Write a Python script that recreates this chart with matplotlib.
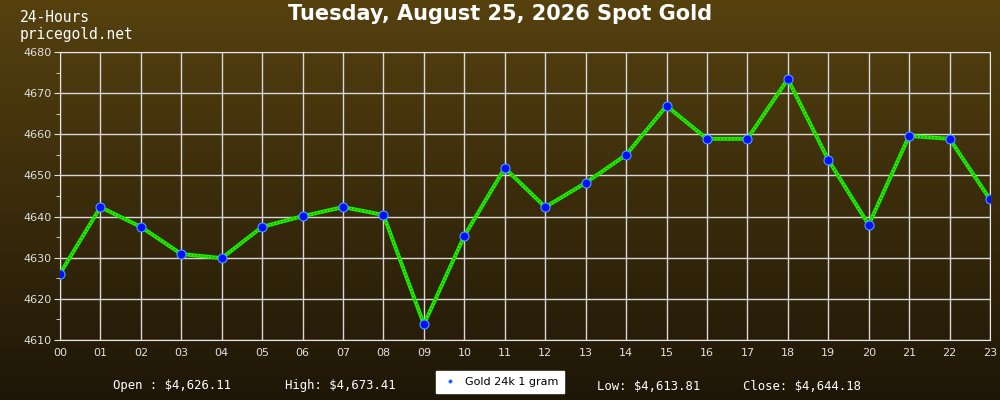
import numpy as np
import matplotlib
matplotlib.use("Agg")
import matplotlib.pyplot as plt
from matplotlib.colors import LinearSegmentedColormap

hours = ['00', '01', '02', '03', '04', '05', '06', '07', '08', '09', '10', '11',
         '12', '13', '14', '15', '16', '17', '18', '19', '20', '21', '22', '23']
prices = [4626.11, 4642.3, 4637.5, 4630.9, 4629.9, 4637.5, 4640.1, 4642.3,
          4640.4, 4613.81, 4635.3, 4651.8, 4642.3, 4648.2, 4655.0, 4666.9,
          4658.9, 4658.9, 4673.41, 4653.8, 4638.0, 4659.6, 4658.9, 4644.18]
title = 'Tuesday, August 25, 2026 Spot Gold'
summary = ['Open : $4,626.11', 'High: $4,673.41', 'Low: $4,613.81', 'Close: $4,644.18']
legend_label = 'Gold 24k 1 gram'

fig = plt.figure(figsize=(10, 4), dpi=100)

# background gradient over the whole figure
bg = fig.add_axes([0, 0, 1, 1], zorder=0)
cmap = LinearSegmentedColormap.from_list('bg', ['#56410f', '#1e1607'])
bg.imshow(np.linspace(0, 1, 256).reshape(-1, 1), aspect='auto', cmap=cmap,
          extent=[0, 1, 0, 1])
bg.axis('off')

ax = fig.add_axes([0.06, 0.15, 0.93, 0.72], zorder=1)
ax.patch.set_alpha(0)
x = np.arange(len(hours))
ax.plot(x, prices, color='#22ee00', lw=2.8, solid_capstyle='butt', zorder=3)
ax.plot(x, prices, color='#0c9a00', lw=1.0, ls=(0, (1, 1.5)), zorder=4)
ax.plot(x, prices, ls='none', marker='o', ms=6.5, mfc='#0010ff', mec='#4aa0ff',
        mew=0.8, zorder=5, label=legend_label)

ax.set_xlim(0, 23)
ax.set_ylim(4610, 4680)
ax.set_xticks(x)
ax.set_xticklabels(hours)
ax.set_yticks(np.arange(4610, 4681, 10))
ax.set_yticks(np.arange(4615, 4680, 10), minor=True)
ax.grid(True, color='#d8d8d8', lw=1)
for s in ax.spines.values():
    s.set_color('#e8e8e8')
ax.tick_params(colors='#e0e0e0', labelsize=8, length=4)
ax.tick_params(which='minor', colors='#e0e0e0', length=3)
ax.tick_params(axis='x', length=0, pad=6)
ax.tick_params(axis='y', pad=2)
for lab in ax.get_xticklabels() + ax.get_yticklabels():
    lab.set_color('#e0e0e0')

fig.text(0.5, 0.965, title, ha='center', va='center', color='white',
         fontsize=15, fontweight='bold')
fig.text(0.02, 0.955, '24-Hours', ha='left', va='center', color='white',
         fontsize=10.5, family='DejaVu Sans Mono')
fig.text(0.02, 0.915, 'pricegold.net', ha='left', va='center', color='white',
         fontsize=10.5, family='DejaVu Sans Mono')

xs = [0.113, 0.285, 0.597, 0.743]
for xp, t in zip(xs, summary):
    fig.text(xp, 0.035, t, ha='left', va='center', color='white',
             fontsize=8.8, family='DejaVu Sans Mono')

leg = fig.legend(loc='center', bbox_to_anchor=(0.5, 0.045), fontsize=8,
                 frameon=True, fancybox=False, markerscale=0.35, framealpha=1,
                 handletextpad=0.6, borderpad=0.5, handlelength=1.5)
leg.get_frame().set_facecolor('white')
leg.get_frame().set_edgecolor('white')

fig.savefig('out.png', dpi=100)
